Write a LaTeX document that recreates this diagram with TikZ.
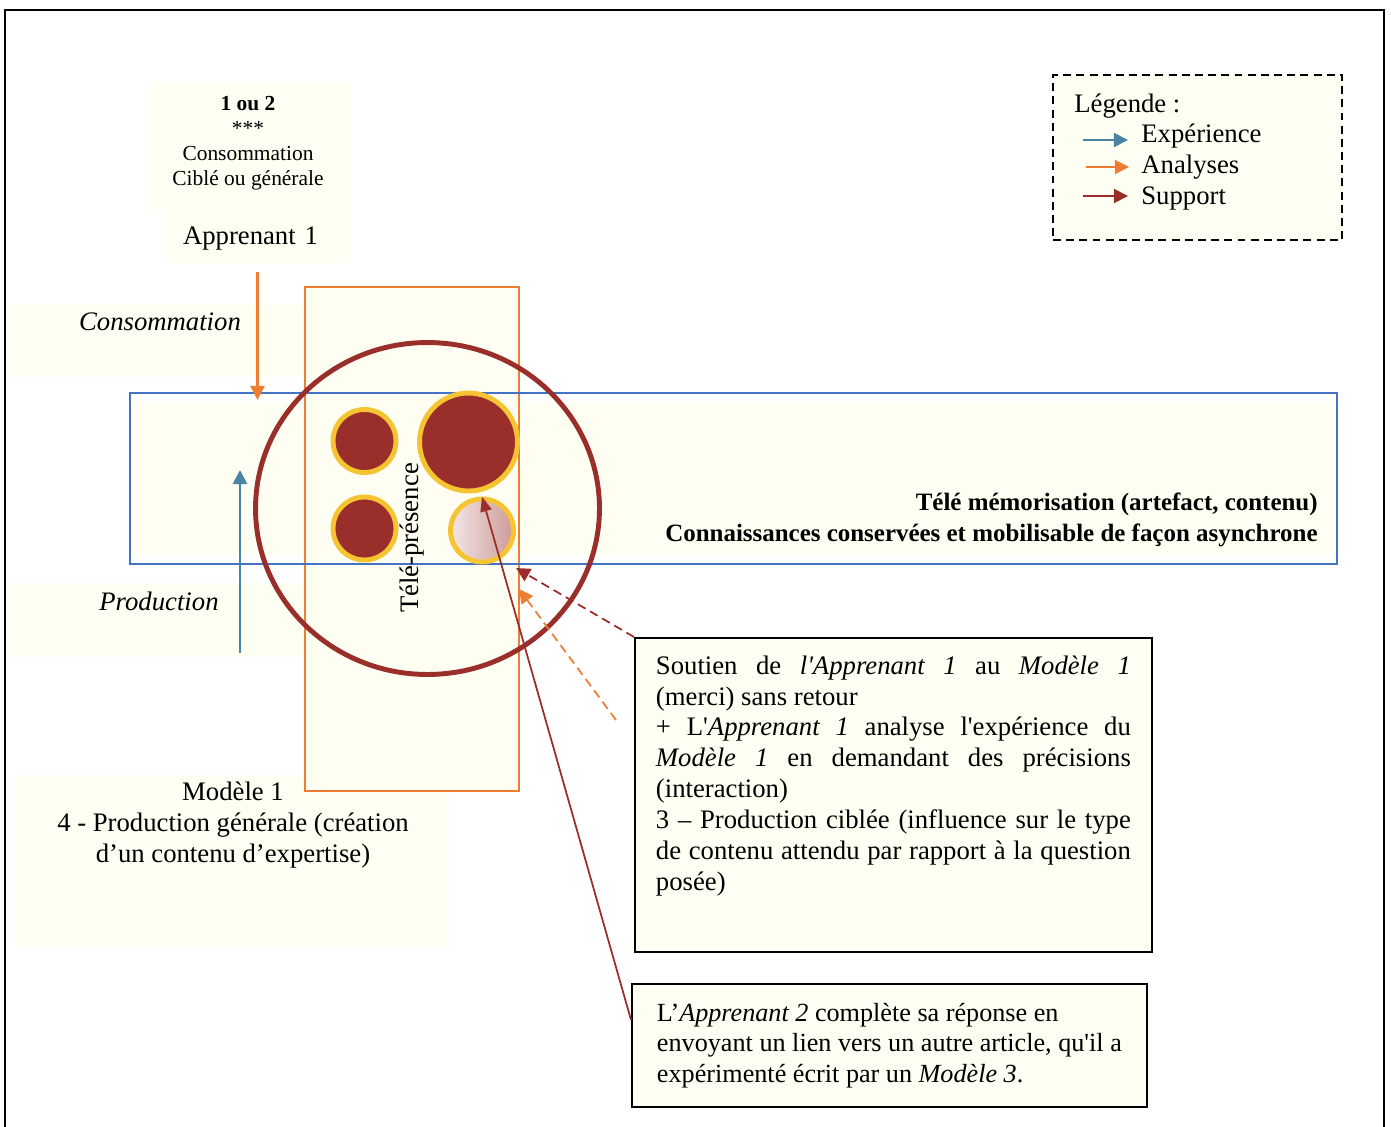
\documentclass[tikz,border=0pt]{standalone}
\usepackage{fontspec}
\setmainfont{Liberation Serif}[Ligatures=TeXOff]
\usetikzlibrary{arrows.meta,positioning}
\definecolor{cream}{HTML}{FEFEF2}
\definecolor{brick}{HTML}{992E2A}
\definecolor{gold}{HTML}{F6C431}
\definecolor{carrot}{HTML}{ED7D31}
\definecolor{steel}{HTML}{4A84A2}
\definecolor{azure}{HTML}{4472C4}
\definecolor{rosy}{HTML}{F4E6E6}
\definecolor{rosedark}{HTML}{CC9C99}

\begin{document}
\begin{tikzpicture}[x=0.02cm, y=-0.02cm,
  every node/.style={font=\fontsize{15.2}{17.6}\selectfont},
  tip/.style={-{Triangle[length=8pt, width=8pt]}},
  slim/.style={-{Triangle[length=8.5pt, width=6.5pt]}},
  dot/.style={circle, draw=gold, line width=2.8pt, fill=brick, inner sep=0pt, minimum size=1.26cm},
  pale/.style={circle, draw=gold, line width=2.8pt, left color=rosy, right color=rosedark, inner sep=0pt, minimum size=1.26cm},
  note/.style={draw, line width=1.1pt, fill=cream, anchor=north west, inner xsep=0.42cm},
  dashy/.style={dash pattern=on 5pt off 3pt, line width=1pt}]
\useasboundingbox (0,0) rectangle (1391,1126);
\draw[line width=1.1pt] (5,1140) -- (5,10) -- (1384,10) -- (1384,1140);

\fill[cream] (150,82) rectangle (350,210);
\fill[cream] (8,305) rectangle (305,377);
\fill[cream] (8,583) rectangle (305,657);
\fill[cream] (15,775) rectangle (450,948);
\fill[cream] (134,402) rectangle (1333,555);

\node[align=center, font=\fontsize{12.2}{14.2}\selectfont] (hdr) at (248,143.5) {\textbf{1 ou 2}\\***\\Consommation\\Ciblé ou générale};
\node[fill=cream, inner xsep=0.36cm, text width=2.98cm, align=left, minimum height=1.06cm, text height=2.2ex, text depth=0.2ex] (app) at (257.5,236.5) {Apprenant 1};

\node[draw=carrot, line width=0.8pt, fill=cream, minimum width=4.28cm, minimum height=10.08cm, inner sep=0pt] (col) at (412,539) {};
\node[draw=azure, line width=0.8pt, minimum width=24.14cm, minimum height=3.42cm, inner sep=0pt] (tele) at (733.5,478.5) {};
\node[font=\fontsize{14.2}{17.6}\selectfont\bfseries, align=right, anchor=east, inner sep=0pt] (mem) at (1318,520) {Télé mémorisation (artefact, contenu)\\Connaissances conservées et mobilisable de façon asynchrone};

\node[font=\fontsize{15.2}{17.6}\selectfont\itshape] (cons) at (160,322) {Consommation};
\node[font=\fontsize{15.2}{17.6}\selectfont\itshape] (prod) at (159,601) {Production};
\node[align=center] (mod) at (233,825) {Modèle 1\\4 - Production générale (création\\d’un contenu d’expertise)};

\draw[brick, line width=2.8pt] (427.5,508.5) ellipse [x radius=3.44cm, y radius=3.32cm];
\node[dot] (c1) at (364.5,441) {};
\node[dot, minimum size=1.96cm] (c2) at (468.5,442) {};
\node[dot] (c3) at (364.5,528.5) {};
\node[pale] (c4) at (482,530.5) {};
\node[rotate=90] (tp) at (412,538) {Télé-présence};

\coordinate (consend) at (257.5,400);
\draw[carrot, line width=1.4pt, tip, shorten <=5pt] (app.south) -- (consend);
\coordinate (prodbase) at (240,653);
\coordinate (prodtip) at (240,470);
\draw[steel, line width=1.6pt, tip] (prodbase) -- (prodtip);

\node[note, inner ysep=10pt] (soutien) at (634,637) {\begin{minipage}[t][5.57cm][t]{9.5cm}
\makebox[\linewidth][s]{Soutien de \textit{l'Apprenant 1} au \textit{Modèle 1}}\\
(merci) sans retour\\
\makebox[\linewidth][s]{+ L'\textit{Apprenant 1} analyse l'expérience du}\\
\makebox[\linewidth][s]{\textit{Modèle 1} en demandant des précisions}\\
(interaction)\\
\makebox[\linewidth][s]{3 – Production ciblée (influence sur le type}\\
\makebox[\linewidth][s]{de contenu attendu par rapport à la question}\\
posée)
\end{minipage}};
\node[note, font=\fontsize{14.9}{17.5}\selectfont, inner xsep=0.38cm, minimum width=10.3cm, minimum height=2.46cm, align=left] (lien) at (631,983) {L’\textit{Apprenant 2} complète sa réponse en\\envoyant un lien vers un autre article, qu'il a\\expérimenté écrit par un \textit{Modèle 3}.};

\coordinate (supp) at (516,568);
\draw[brick, dashy, tip] (soutien.north west) -- (supp);
\coordinate (anafrom) at (616,720);
\coordinate (anato) at (519,589);
\draw[carrot, dashy, tip] (anafrom) -- (anato);
\draw[brick, line width=1pt, slim] ([yshift=-21pt]lien.north west) -- (c4.north);

\node[draw, line width=0.9pt, dash pattern=on 4.5pt off 3pt, fill=cream, minimum width=5.78cm, minimum height=3.3cm, inner sep=0pt] (leg) at (1197.5,157.5) {};
\node[anchor=base west, inner sep=0pt] (legt) at (1074,112) {Légende :};
\node[anchor=base west, inner sep=0pt] (lexp) at (1141,142) {Expérience};
\node[anchor=base west, inner sep=0pt] (lana) at (1141,173) {Analyses};
\node[anchor=base west, inner sep=0pt] (lsup) at (1141,204) {Support};
\draw[steel, line width=1.1pt, tip] ([shift={(-58,-2)}]lexp.base west) -- ([shift={(-13,-2)}]lexp.base west);
\draw[carrot, line width=1.1pt, tip] ([shift={(-55,-6)}]lana.base west) -- ([shift={(-12,-6)}]lana.base west);
\draw[brick, line width=1.1pt, tip] ([shift={(-58,-8)}]lsup.base west) -- ([shift={(-13,-8)}]lsup.base west);
\end{tikzpicture}
\end{document}
